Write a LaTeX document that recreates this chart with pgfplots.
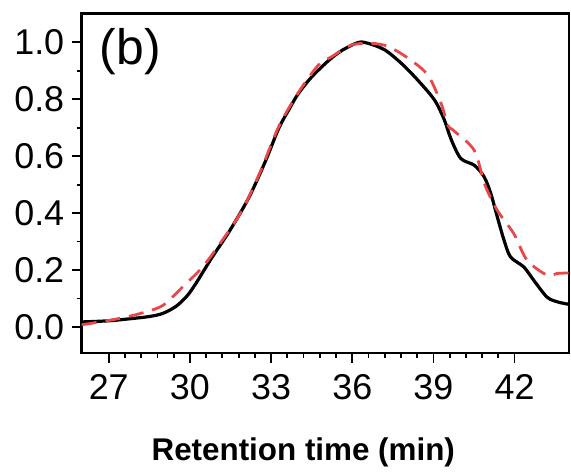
\documentclass[border=0pt]{standalone}
\usepackage{pgfplots}
\pgfplotsset{compat=1.18}
\usepackage{fontspec}
\setmainfont{Liberation Sans}
\definecolor{redd}{RGB}{232,72,74}
\begin{document}
\begin{tikzpicture}
\begin{axis}[
  at={(0,0)}, anchor=south west,
  scale only axis, width=487bp, height=339bp,
  xmin=26, xmax=44, ymin=-0.09, ymax=1.1,
  xtick={27,30,33,36,39,42}, ytick={0,0.2,0.4,0.6,0.8,1.0},
  minor x tick num=4, minor y tick num=1,
  xtick pos=bottom, ytick pos=left, tick align=outside,
  major tick length=10bp, minor tick length=5bp,
  every tick/.style={black, line width=1.8bp},
  axis line style={line width=2.4bp},
  /pgf/number format/assume math mode=true,
  ticklabel style={font=\fontsize{36}{40}\selectfont},
  xticklabel style={yshift=-8bp},
  yticklabel style={xshift=-4bp, /pgf/number format/.cd, fixed, fixed zerofill, precision=1},
  xlabel={\bfseries Retention time (min)},
  xlabel style={font=\fontsize{31.5}{36}\selectfont, at={(rel axis cs:0.455,0)}, anchor=north, yshift=-82bp},
  clip=true,
]
\addplot[black, line width=3.2bp, smooth, tension=0.5] coordinates {
(26.0,0.018) (27.0,0.022) (27.77,0.029) (28.5,0.037) (29.0,0.048) (29.49,0.073)
(29.9,0.11) (30.22,0.153) (30.82,0.245) (31.45,0.335) (32.18,0.455) (32.79,0.582)
(33.28,0.697) (33.65,0.762) (34.01,0.820) (34.51,0.879) (35.12,0.935) (35.6,0.970)
(36.22,0.999) (36.59,0.996) (37.20,0.973) (37.81,0.926) (38.42,0.867) (39.04,0.797)
(39.40,0.728) (39.65,0.660) (40.01,0.592) (40.51,0.568) (40.87,0.528) (41.12,0.469)
(41.36,0.387) (41.61,0.305) (41.85,0.246) (42.34,0.211) (42.71,0.164) (43.20,0.105)
(43.6,0.088) (44.0,0.080)
};
\addplot[redd, line width=2.8bp, smooth, tension=0.5, dash pattern=on 15bp off 9bp] coordinates {
(26.0,0.008) (27.16,0.026) (28.14,0.047) (29.0,0.076) (29.73,0.141) (30.47,0.211)
(31.20,0.305) (31.93,0.41) (32.6,0.545) (33.28,0.703) (34.0,0.822) (34.75,0.92)
(35.24,0.949) (35.97,0.99) (36.71,0.996) (37.32,0.985) (38.06,0.944) (38.79,0.885)
(39.28,0.786) (39.53,0.709) (39.77,0.688) (40.51,0.62) (40.9,0.50) (41.36,0.41)
(41.97,0.328) (42.46,0.235) (43.20,0.182) (43.56,0.188) (44.0,0.19)
};
\node[anchor=north west, inner sep=0pt, font=\fontsize{50}{54}\selectfont] at (rel axis cs:0,1) [xshift=18bp, yshift=-15bp] {(b)};
\end{axis}
\pgfresetboundingbox
\path[use as bounding box] (-81.7bp,-123.3bp) rectangle (489.3bp,352.7bp);
\end{tikzpicture}
\end{document}
